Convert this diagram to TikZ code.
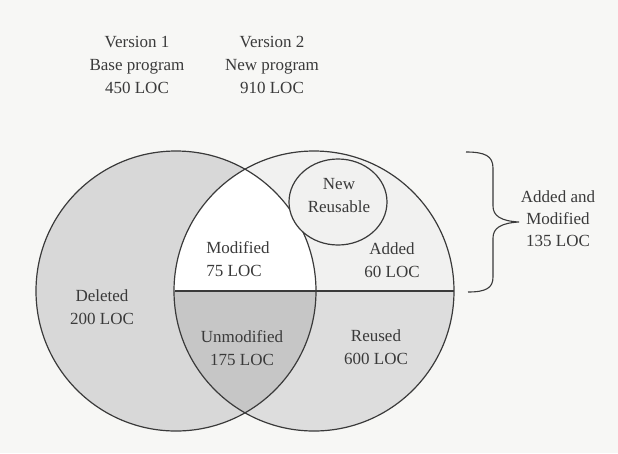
\documentclass[tikz,border=0pt]{standalone}
\usepackage{fontspec}
\setmainfont{Liberation Serif}
\definecolor{paper}{HTML}{F7F7F5}
\definecolor{ink}{HTML}{3A3A3A}
\definecolor{delgray}{HTML}{D8D8D8}
\definecolor{reugray}{HTML}{DDDDDD}
\definecolor{unmgray}{HTML}{C6C6C6}
\definecolor{addgray}{HTML}{F1F1F0}
\begin{document}
\begin{tikzpicture}[x=1pt,y=-1pt,
  lbl/.style={text=ink,font=\fontsize{17}{23}\selectfont,align=center,inner sep=0pt},
  rim/.style={draw=ink,line width=1.2pt}]
\useasboundingbox[fill=paper] (0,0) rectangle (618,453);
\coordinate (old) at (176,291);
\coordinate (new) at (314,291);
\coordinate (reuse) at (338,202);
\fill[delgray] (old) circle[radius=140];
\begin{scope}
  \clip (new) circle[radius=140];
  \fill[addgray] (170,140) rectangle (460,291);
  \fill[reugray] (170,291) rectangle (460,440);
  \clip (old) circle[radius=140];
  \fill[white!97!paper] (170,140) rectangle (460,291);
  \fill[unmgray] (170,291) rectangle (460,440);
\end{scope}
\draw[rim] (old) circle[radius=140];
\draw[rim] (new) circle[radius=140];
\draw[rim] (new) ++(-139,0) -- ++(279,0);
\draw[rim,fill=addgray] (reuse) ellipse[x radius=49,y radius=43];
\node[lbl] (ver1) at (137,65) {Version 1\\Base program\\450 LOC};
\node[lbl] (ver2) at (272,65) {Version 2\\New program\\910 LOC};
\node[lbl] (del) at (102,307) {Deleted\\200 LOC};
\node[lbl,align=left] (mod) at (238,259) {Modified\\75 LOC};
\node[lbl] (unm) at (242,348) {Unmodified\\175 LOC};
\node[lbl] (nre) at (339,196) {New\\Reusable};
\node[lbl] (add) at (392,260) {Added\\60 LOC};
\node[lbl] (reu) at (376,347) {Reused\\600 LOC};
\node[lbl,font=\fontsize{17}{22}\selectfont] (am) at (558,219) {Added and\\Modified\\135 LOC};
\coordinate (btop) at (466,152);
\coordinate (btip) at (519,222);
\coordinate (bbot) at (468,292);
\draw[draw=ink,line width=1.1pt] (btop) .. controls (485,152) and (493,156) .. (493,168) -- (493,206)
  .. controls (493,216) and (501,221) .. (btip)
  .. controls (501,223) and (493,228) .. (493,238) -- (493,277)
  .. controls (493,288) and (486,292) .. (bbot);
\end{tikzpicture}
\end{document}
